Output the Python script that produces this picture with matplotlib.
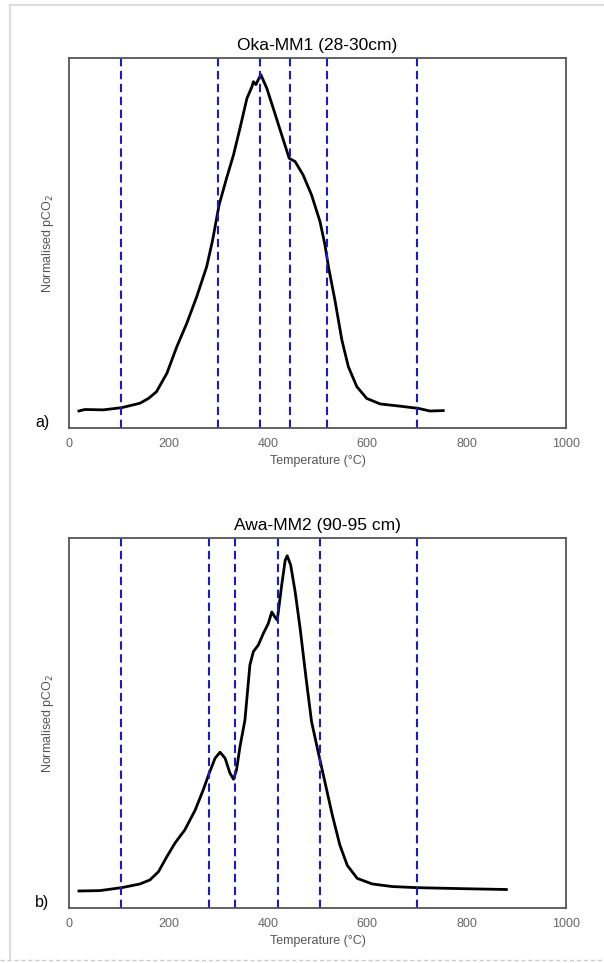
import numpy as np
import matplotlib
matplotlib.use('Agg')
import matplotlib.pyplot as plt
from matplotlib.lines import Line2D

plt.rcParams['font.family'] = ['Liberation Sans', 'DejaVu Sans']

# --- data ---
oka_title = 'Oka-MM1 (28-30cm)'
oka_temp = [20, 32, 69, 106, 143, 160, 176, 197, 217, 237, 257, 277, 289, 302, 317, 331, 344,
            358, 368, 371, 376, 384, 386, 398, 411, 428, 443, 455, 471, 488, 505, 515, 522, 535,
            549, 562, 579, 599, 626, 666, 703, 726, 753]
oka_pco2 = [0.046, 0.05, 0.049, 0.055, 0.067, 0.08, 0.098, 0.148, 0.22, 0.283, 0.355, 0.436, 0.508,
            0.603, 0.675, 0.738, 0.81, 0.891, 0.922, 0.936, 0.928, 0.95, 0.955, 0.918, 0.864, 0.792,
            0.729, 0.72, 0.684, 0.63, 0.558, 0.495, 0.436, 0.346, 0.238, 0.166, 0.112, 0.08, 0.065,
            0.059, 0.053, 0.046, 0.047]
oka_lines = [105, 300, 385, 445, 520, 700]

awa_title = 'Awa-MM2 (90-95 cm)'
awa_temp = [20, 62, 106, 143, 163, 180, 197, 213, 233, 254, 270, 282, 294, 304, 314, 324, 331,
            337, 344, 354, 364, 371, 381, 391, 401, 408, 414, 419, 428, 435, 439, 446, 455, 465,
            477, 488, 500, 515, 530, 545, 560, 580, 610, 650, 700, 800, 880]
awa_pco2 = [0.046, 0.047, 0.055, 0.065, 0.076, 0.098, 0.139, 0.175, 0.211, 0.265, 0.319, 0.364,
            0.405, 0.421, 0.405, 0.364, 0.348, 0.373, 0.436, 0.508, 0.657, 0.693, 0.711, 0.742,
            0.769, 0.80, 0.787, 0.778, 0.873, 0.94, 0.952, 0.927, 0.855, 0.756, 0.621, 0.504,
            0.43, 0.34, 0.25, 0.17, 0.115, 0.08, 0.065, 0.058, 0.055, 0.052, 0.05]
awa_lines = [105, 282, 334, 421, 506, 700]

xticks = [0, 200, 400, 600, 800, 1000]

fig = plt.figure(figsize=(6.04, 9.63), dpi=100)
fig.patch.set_facecolor('white')

# light page border
fig.add_artist(Line2D([10/604, 10/604], [0.003, 1 - 5/963], color='#dddddd', lw=1.5))
fig.add_artist(Line2D([10/604, 1], [1 - 5/963, 1 - 5/963], color='#dddddd', lw=1.5))
fig.add_artist(Line2D([0, 1], [3/963, 3/963], color='#cccccc', lw=1, ls=(0, (3, 2))))

panels = [(oka_temp, oka_pco2, oka_lines, oka_title, 'a)', 428),
          (awa_temp, awa_pco2, awa_lines, awa_title, 'b)', 908)]

for temp, pco2, lines, title, tag, ybot in panels:
    ax = fig.add_axes([69/604, 1 - ybot/963, 497/604, 370/963])
    ax.plot(temp, pco2, color='black', lw=2)
    for v in lines:
        ax.axvline(v, color='#1a1acc', lw=1.5, ls=(0, (4, 2.2)))
    ax.set_xlim(0, 1000)
    ax.set_ylim(0, 1)
    ax.set_xticks(xticks)
    ax.set_yticks([])
    ax.tick_params(axis='x', length=0, pad=7, labelsize=9, labelcolor='#666666')
    for s in ax.spines.values():
        s.set_color('#555555')
        s.set_linewidth(1.3)
    ax.set_xlabel('Temperature (°C)', fontsize=9, color='#555555', labelpad=4)
    ax.set_ylabel('Normalised pCO$_2$', fontsize=9, color='#555555', labelpad=9)
    ax.set_title(title, fontsize=12.5, color='black', pad=6)
    fig.text(35/604, 1 - (ybot - 6)/963, tag, fontsize=11.5, ha='left', va='center')

fig.savefig('out.png', dpi=100, facecolor='white')
